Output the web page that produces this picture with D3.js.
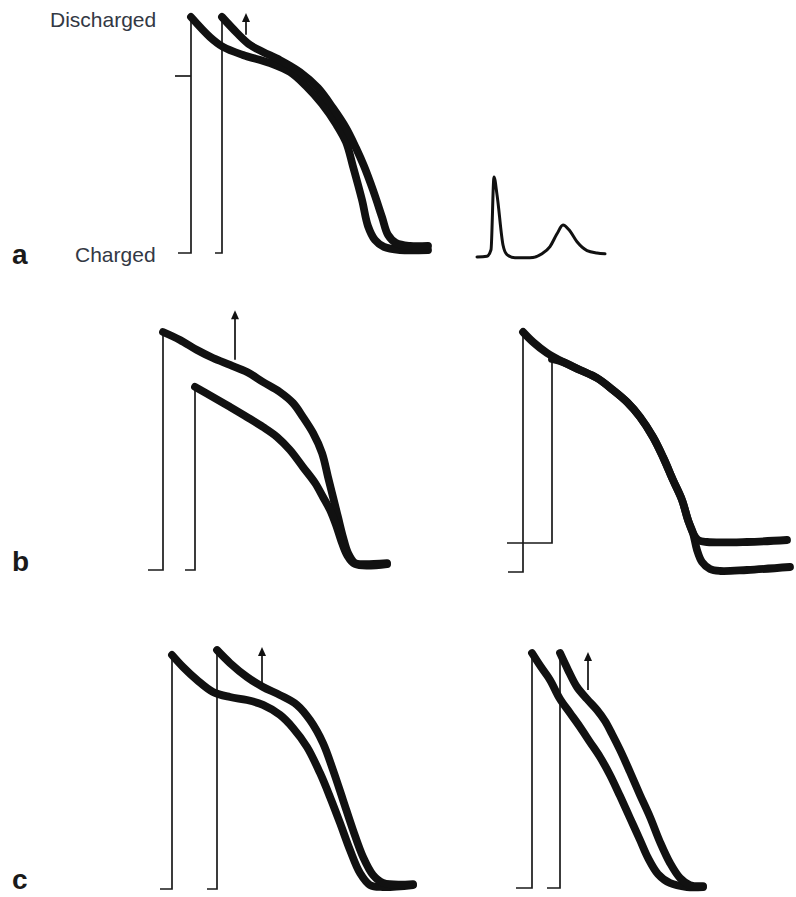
<!DOCTYPE html>
<html>
<head>
<meta charset="utf-8">
<script src="https://cdn.jsdelivr.net/npm/d3@7/dist/d3.min.js"></script>
<style>
  html, body { margin: 0; padding: 0; background: #fff; }
  svg { display: block; }
</style>
</head>
<body>
<svg id="fig" width="796" height="897"></svg>
<script>
// ---- Action potential traces: [time (ms from first upstroke), membrane potential (mV)] ----

// Panel a: control AP and AP after shortened interval
const apA1 = [[0,30],[19,19.8],[32,14.8],[52,10.7],[79,6.6],[99,2.0],[115,-5.1],[131,-14.2],[145,-24.4],[155,-33.6],[162,-46],[171,-63],[177,-76.3],[184,-83.4],[193,-86.9],[209,-88.5],[237,-88.5]];
const apA2 = [[31,30],[46,21.9],[59,15.8],[72,12.2],[89,8.1],[109,2],[127,-6.1],[142,-16.3],[155,-26.4],[165,-36.6],[173,-45.8],[182,-58],[191,-71.7],[197,-80.8],[205,-84.9],[219,-86.4],[237,-86.4]];

// Panel b, left: full AP and AP triggered from lower amplitude
const apB1 = [[0,30],[17,26],[34,20.9],[50,16.9],[67,13.4],[84,9.8],[100,4.8],[117,-0.3],[130,-5.8],[140,-12.9],[150,-20.9],[159,-31],[165,-43.1],[170,-53.2],[175,-63.3],[180,-73.4],[185,-81.4],[192,-86.5],[200,-87],[224,-86.5]];
const apB2 = [[32,2.3],[50,-2.8],[67,-7.8],[84,-12.9],[100,-17.9],[114,-22.9],[127,-29.5],[140,-38.1],[152,-46.1],[160,-53.2],[167,-59.7],[173,-67.3],[178,-74.9],[184,-82.4],[192,-87],[224,-87]];

// Panel b, right: same repolarisation, two resting levels
const apB3 = [[0,30],[10,25],[24,19.5],[40,15],[57,11],[74,7],[90,1],[104,-5],[117,-12.5],[130,-22.5],[140,-32.5],[150,-44],[159,-54],[165,-64],[170,-70.5],[174,-79],[179,-85],[187,-88.5],[197,-89.5],[224,-89],[267,-87.5]];
const apB4 = [[29,16.5],[40,15],[57,11],[74,7],[90,1],[104,-5],[117,-12.5],[130,-22.5],[140,-32.5],[150,-44],[159,-54],[165,-64],[170,-70.5],[175,-74],[184,-75],[224,-75],[264,-74]];

// Panel c, left
const apC1 = [[0,29],[11,22.9],[25,16.3],[41,10.2],[58,7.6],[75,6.1],[91,3.6],[108,-1.5],[121,-8.1],[135,-17.8],[148,-31],[158,-43.2],[168,-56.4],[178,-70.2],[188,-81.9],[198,-88],[211,-89],[241,-88]];
const apC2 = [[45,31.5],[58,24.9],[75,17.8],[91,12.7],[108,8.6],[125,3.6],[138,-4.1],[151,-15.8],[161,-29.5],[171,-44.7],[181,-60],[191,-73.7],[201,-82.9],[211,-86.9],[241,-87.5]];

// Panel c, right
const apC3 = [[0,29.5],[9,22.4],[18,15.8],[28,6.1],[38,-1],[48,-8.1],[58,-15.8],[68,-23.4],[78,-32.5],[88,-43.2],[98,-54.4],[108,-65.6],[116,-74.7],[126,-82.9],[138,-87.5],[155,-89.5],[171,-89.5]];
const apC4 = [[28,29.5],[36,20.9],[45,12.2],[55,6.1],[65,0.5],[73,-5.1],[80,-11.7],[88,-19.8],[98,-31],[108,-42.7],[118,-53.9],[128,-66.6],[138,-77.3],[148,-84.9],[158,-88.5],[171,-89]];

// Upstrokes: [t start of resting segment, t of upstroke, resting mV, peak mV]
const upA  = [[-13, 0, -90, 30], [24, 31, -90, 30]];
const upB1 = [[-15, 0, -90, 30], [22, 32, -90, 2.3]];
const upB2 = [[-15, 0, -90, 30], [-16, 29, -75.5, 16.5]];
const upC1 = [[-12, 0, -90, 29], [35, 45, -90, 31.5]];
const upC2 = [[-16, 0, -90, 29.5], [15, 28, -90, 29.5]];

// Arrows: [t, mV from, mV to]
const arrowA  = [55, 21, 32];
const arrowB1 = [72, 16, 41];
const arrowC1 = [90, 13.7, 33];
const arrowC2 = [56, 10.7, 30];

// ECG-like inset in panel a: [ms, mV]
const ecg = [[0,0],[10,0.01],[14,0.09],[17,1.0],[20,0.78],[26,0.15],[30,0.03],[38,-0.01],[53,-0.01],[65,0.04],[73,0.13],[80,0.29],[86,0.4],[92,0.34],[100,0.19],[110,0.08],[120,0.05],[128,0.04]];

// Text
const axisLabels = ["Discharged", "Charged"];
const panelLetters = ["a", "b", "c"];

// ---- Drawing ----
const svg = d3.select("#fig");
const ink = "#111";

const panels = [
  { x0: 191, base: 253, top: 17,  traces: [apA1, apA2], up: upA,  arrow: arrowA,  zeroTick: true },
  { x0: 163, base: 570, top: 332, traces: [apB1, apB2], up: upB1, arrow: arrowB1 },
  { x0: 523, base: 572, top: 332, traces: [apB3, apB4], up: upB2, arrow: null },
  { x0: 172, base: 889, top: 653, traces: [apC1, apC2], up: upC1, arrow: arrowC1 },
  { x0: 532, base: 888, top: 652, traces: [apC3, apC4], up: upC2, arrow: arrowC2 }
];

panels.forEach(p => {
  const x = d3.scaleLinear().domain([0, 250]).range([p.x0, p.x0 + 250]);
  const y = d3.scaleLinear().domain([-90, 30]).range([p.base, p.top]);
  const g = svg.append("g");

  // thin stimulus / upstroke lines
  g.selectAll("path.up").data(p.up).join("path")
    .attr("class", "up")
    .attr("d", d => d3.line()([[x(d[0]), y(d[2])], [x(d[1]), y(d[2])], [x(d[1]), y(d[3])]]))
    .attr("fill", "none").attr("stroke", "#1a1a1a").attr("stroke-width", 1.7);

  if (p.zeroTick) {
    g.append("line")
      .attr("x1", x(-16)).attr("x2", x(0)).attr("y1", y(0)).attr("y2", y(0))
      .attr("stroke", "#1a1a1a").attr("stroke-width", 1.7);
  }

  // repolarisation traces
  const line = d3.line().x(d => x(d[0])).y(d => y(d[1])).curve(d3.curveCatmullRom.alpha(0.5));
  g.selectAll("path.ap").data(p.traces).join("path")
    .attr("class", "ap")
    .attr("d", line)
    .attr("fill", "none").attr("stroke", ink)
    .attr("stroke-width", 7.8)
    .attr("stroke-linecap", "round").attr("stroke-linejoin", "round");

  if (p.arrow) {
    const [t, v0, v1] = p.arrow;
    const ax = x(t), yTip = y(v1);
    g.append("line")
      .attr("x1", ax).attr("x2", ax).attr("y1", y(v0)).attr("y2", yTip + 6)
      .attr("stroke", ink).attr("stroke-width", 1.7);
    g.append("path")
      .attr("d", `M${ax},${yTip}L${ax - 4},${yTip + 9}L${ax + 4},${yTip + 9}Z`)
      .attr("fill", ink);
  }
});

// ECG inset
{
  const x = d3.scaleLinear().domain([0, 128]).range([477, 605]);
  const y = d3.scaleLinear().domain([0, 1]).range([257, 177]);
  svg.append("path")
    .attr("d", d3.line().x(d => x(d[0])).y(d => y(d[1])).curve(d3.curveMonotoneX)(ecg))
    .attr("fill", "none").attr("stroke", ink).attr("stroke-width", 3)
    .attr("stroke-linejoin", "round").attr("stroke-linecap", "round");
}

// Labels
svg.append("text").attr("x", 50).attr("y", 27).text(axisLabels[0])
  .attr("font-family", "Liberation Sans, Arial, sans-serif").attr("font-size", 21).attr("fill", "#333844");
svg.append("text").attr("x", 75).attr("y", 262).text(axisLabels[1])
  .attr("font-family", "Liberation Sans, Arial, sans-serif").attr("font-size", 21).attr("fill", "#333844");

const letterPos = [[12, 264], [12, 571], [12, 889]];
svg.selectAll("text.letter").data(panelLetters).join("text")
  .attr("class", "letter")
  .attr("x", (d, i) => letterPos[i][0]).attr("y", (d, i) => letterPos[i][1])
  .text(d => d)
  .attr("font-family", "Liberation Sans, Arial, sans-serif")
  .attr("font-weight", "bold").attr("font-size", 28).attr("fill", "#1a1a1a");
</script>
</body>
</html>
